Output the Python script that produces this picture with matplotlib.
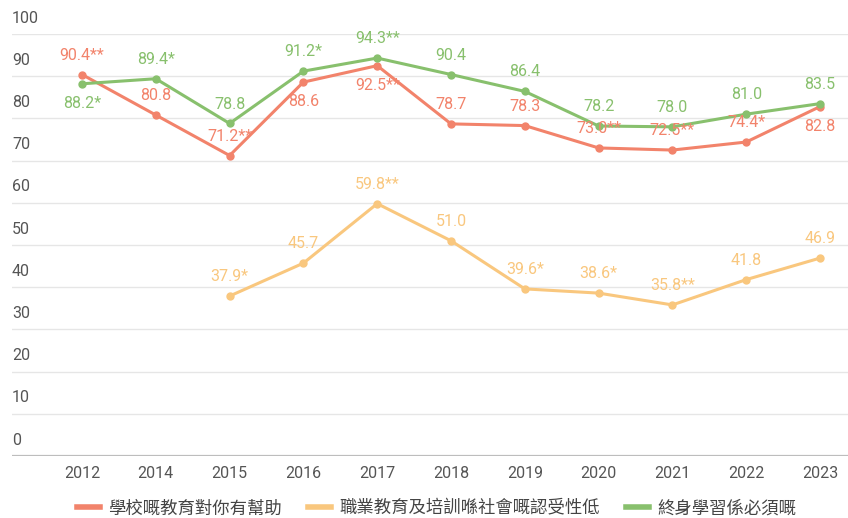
import matplotlib
matplotlib.use("Agg")
import matplotlib.pyplot as plt
import numpy as np

plt.rcParams['font.family'] = ['Roboto', 'Noto Sans CJK TC', 'DejaVu Sans']

years = ["2012", "2014", "2015", "2016", "2017", "2018", "2019", "2020", "2021", "2022", "2023"]

school_help = [90.4, 80.8, 71.2, 88.6, 92.5, 78.7, 78.3, 73.0, 72.5, 74.4, 82.8]
school_lbl = ["90.4**", "80.8", "71.2**", "88.6", "92.5**", "78.7", "78.3", "73.0**", "72.5**", "74.4*", "82.8"]
school_pos = ["up", "up", "up", "down", "down", "up", "up", "up", "up", "up", "down"]

vet_low = [None, None, 37.9, 45.7, 59.8, 51.0, 39.6, 38.6, 35.8, 41.8, 46.9]
vet_lbl = [None, None, "37.9*", "45.7", "59.8**", "51.0", "39.6*", "38.6*", "35.8**", "41.8", "46.9"]

lifelong = [88.2, 89.4, 78.8, 91.2, 94.3, 90.4, 86.4, 78.2, 78.0, 81.0, 83.5]
lifelong_lbl = ["88.2*", "89.4*", "78.8", "91.2*", "94.3**", "90.4", "86.4", "78.2", "78.0", "81.0", "83.5"]
lifelong_pos = ["down", "up", "up", "up", "up", "up", "up", "up", "up", "up", "up"]

series_names = ["學校嘅教育對你有幫助", "職業教育及培訓喺社會嘅認受性低", "終身學習係必須嘅"]
colors = ["#F2836B", "#F9C77E", "#88C06D"]

W, H = 848, 518
fig = plt.figure(figsize=(W / 100, H / 100), dpi=100)
ax = fig.add_axes([12 / W, (H - 456) / H, (848 - 12) / W, (456 - 34) / H])

x = np.arange(len(years))
step = (820 - 82) / 10
ax.set_xlim(-70 / step, 10 + 28 / step)
ax.set_ylim(0, 100)

# grid + y labels sitting above gridlines
for v in range(10, 101, 10):
    ax.axhline(v, color="#e6e6e6", lw=1, zorder=0)
for v in range(0, 101, 10):
    ax.annotate(str(v), (0, v), xycoords=("axes fraction", "data"),
                xytext=(0, 6), textcoords="offset points", ha="left", va="bottom",
                fontsize=11.5, color="#555555")
ax.axhline(0, color="#bdbdbd", lw=1.6, zorder=1)

for s in ax.spines.values():
    s.set_visible(False)
ax.set_yticks([])
ax.set_xticks(x)
ax.set_xticklabels(years, fontsize=11.5, color="#555555")
ax.tick_params(axis="x", length=0, pad=7)


def draw(vals, labels, pos, color, name):
    xs = [i for i, v in enumerate(vals) if v is not None]
    ys = [vals[i] for i in xs]
    ax.plot(xs, ys, color=color, lw=2.2, marker="o", ms=5, label=name,
            solid_joinstyle="round", zorder=3, clip_on=False)
    for i in xs:
        off = 14 if pos[i] == "up" else -14
        ax.annotate(labels[i], (i, vals[i]), xytext=(0, off), textcoords="offset points",
                    ha="center", va="center", fontsize=11.5, color=color, zorder=4)


draw(school_help, school_lbl, school_pos, colors[0], series_names[0])
draw(vet_low, vet_lbl, ["up"] * len(years), colors[1], series_names[1])
draw(lifelong, lifelong_lbl, lifelong_pos, colors[2], series_names[2])

leg_handles = [plt.Line2D([], [], color=c, lw=4) for c in colors]
fig.legend(leg_handles, series_names, loc="center", bbox_to_anchor=(0.515, 10 / H),
           ncol=3, frameon=False, fontsize=12.5, handlelength=1.3, handletextpad=0.5,
           columnspacing=1.5, labelcolor="#444444")

plt.savefig("out.png", dpi=100)
